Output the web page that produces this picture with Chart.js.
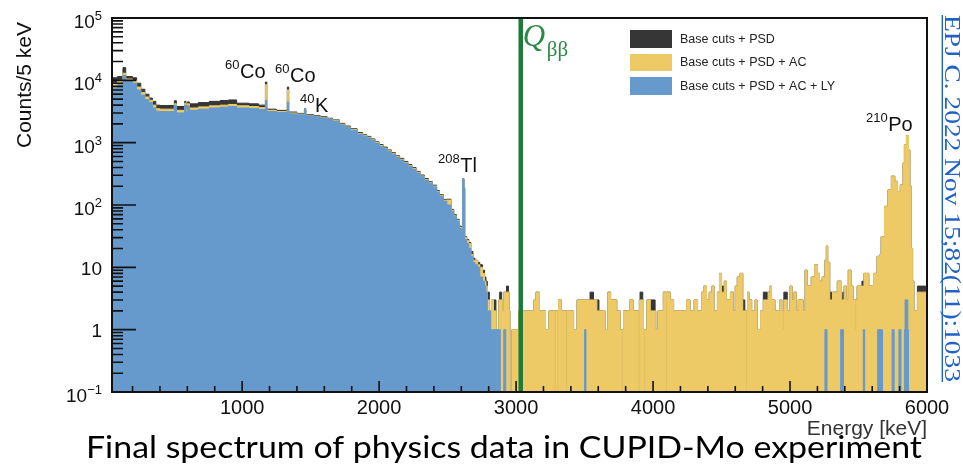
<!DOCTYPE html>
<html>
<head>
<meta charset="utf-8">
<title>CUPID-Mo spectrum</title>
<script src="https://cdn.jsdelivr.net/npm/chart.js@4.4.0/dist/chart.umd.min.js"></script>
<style>
  html, body { margin: 0; padding: 0; background: #fff; }
  canvas { display: block; }
</style>
</head>
<body>
<canvas id="spectrum" width="963" height="465"></canvas>
<script>
// ---------------- axis ranges ----------------
const E_MIN = 50, E_MAX = 6000;          // keV
const Y_MIN = 0.1, Y_MAX = 1e5;          // counts / 5 keV
const Q_BB = 3034;                       // 100Mo Q-value, keV

const xMajorTicks = [1000, 2000, 3000, 4000, 5000, 6000];
const yDecades = [-1, 0, 1, 2, 3, 4, 5];

const seriesNames = ['Base cuts + PSD', 'Base cuts + PSD + AC', 'Base cuts + PSD + AC + LY'];

// ---------------- continuum (common bin edges, keV) ----------------
const loEdges = [
  50, 90, 130, 150, 200, 230, 260, 290, 320, 345,
  370, 400, 450, 505, 520, 580, 590, 600, 615, 680,
  760, 840, 900, 960, 1050, 1120, 1170, 1180, 1250, 1330,
  1340, 1400, 1455, 1465, 1520, 1570, 1620, 1660, 1710, 1750,
  1790, 1840, 1880, 1910, 1940, 1970, 2000, 2030, 2060, 2090,
  2120, 2150, 2180, 2210, 2240, 2270, 2300, 2330, 2360, 2390,
  2420, 2440, 2470, 2495, 2525, 2545, 2565, 2585, 2600, 2610,
  2620, 2625, 2640, 2655, 2670, 2685, 2700, 2720, 2735, 2755,
  2770, 2780
];
const loBlue = [
  7500, 8500, 12000, 10000, 9000, 7000, 5800, 4900, 4400, 3600,
  3200, 3150, 3150, 4000, 3000, 4000, 3100, 3900, 3300, 3450,
  3600, 3700, 3800, 3600, 3550, 3400, 4800, 3150, 3050, 4500,
  2900, 2800, 3400, 2700, 2600, 2500, 2350, 2200, 1930, 1750,
  1580, 1370, 1270, 1190, 1080, 970, 880, 800, 720, 650,
  580, 525, 470, 420, 375, 325, 285, 250, 222, 195,
  160, 137, 115, 100, 79, 65, 55, 42, 37, 260,
  185, 28, 24, 20, 15, 12, 11, 10, 7, 6,
  5, 4
];
const loYellow = [
  9000, 10000, 13000, 10500, 9800, 7800, 6400, 5400, 4800, 4000,
  3500, 3450, 3450, 4200, 3300, 4300, 3400, 4200, 3600, 3750,
  3900, 4000, 4100, 3900, 3800, 3650, 8500, 3300, 3150, 7000,
  3000, 2870, 3450, 2760, 2660, 2560, 2400, 2250, 1980, 1790,
  1620, 1400, 1300, 1220, 1110, 1000, 900, 820, 740, 665,
  595, 540, 482, 430, 385, 335, 293, 257, 228, 201,
  165, 141, 119, 120, 82, 67, 57, 44, 39, 262,
  188, 30, 27, 24, 16, 13, 13, 11, 10, 8,
  6, 5
];
const loBlack = [
  11000, 11500, 16000, 11500, 11000, 9000, 7200, 6000, 5200, 4600,
  4000, 3950, 3950, 4700, 3800, 4600, 3900, 4500, 4200, 4400,
  4600, 4750, 4850, 4300, 4200, 4000, 9400, 3450, 3300, 7800,
  3100, 2950, 3500, 2830, 2730, 2630, 2470, 2320, 2040, 1850,
  1670, 1450, 1340, 1260, 1150, 1030, 930, 850, 765, 690,
  615, 560, 500, 445, 398, 346, 303, 266, 236, 208,
  171, 146, 123, 124, 85, 70, 59, 46, 40, 265,
  190, 31, 28, 25, 18, 14, 13, 12, 11, 9,
  7, 6
];

// ---------------- high-energy region (run edges, keV) ----------------
const hiYellowEdges = [
  2790, 2805, 2820, 2835, 2855, 2875, 2900, 2910, 2950, 2955,
  2970, 3020, 3130, 3145, 3170, 3215, 3240, 3280, 3285, 3305,
  3310, 3330, 3370, 3375, 3420, 3445, 3590, 3650, 3670, 3690,
  3735, 3760, 3770, 3775, 3785, 3830, 3855, 3895, 3900, 3930,
  3940, 3945, 3955, 3980, 4020, 4035, 4075, 4095, 4100, 4125,
  4150, 4245, 4270, 4300, 4325, 4355, 4370, 4390, 4410, 4430,
  4445, 4470, 4485, 4500, 4520, 4535, 4565, 4585, 4600, 4615,
  4635, 4655, 4675, 4680, 4690, 4700, 4720, 4745, 4760, 4785,
  4805, 4840, 4855, 4865, 4890, 4925, 4940, 4945, 4950, 4955,
  4980, 5000, 5015, 5030, 5045, 5060, 5095, 5110, 5125, 5155,
  5180, 5200, 5215, 5235, 5255, 5265, 5275, 5290, 5310, 5345,
  5375, 5395, 5410, 5425, 5445, 5460, 5480, 5485, 5490, 5540,
  5575, 5610, 5635, 5655, 5665, 5690, 5715, 5740, 5765, 5785,
  5805, 5825, 5835, 5850, 5865, 5875, 5885, 5895, 5905, 5930
];
const hiYellowCounts = [
  3, 2, 3, 2, 1, 3, 2, 4, 2, 0,
  1, 2, 3, 4, 2, 1, 2, 0, 2, 0,
  3, 2, 0, 2, 1, 3, 2, 1, 4, 3,
  2, 1, 0, 1, 2, 3, 2, 0, 3, 1,
  0, 1, 3, 2, 1, 2, 4, 0, 4, 3,
  2, 3, 2, 3, 2, 4, 5, 3, 4, 5,
  2, 4, 8, 4, 6, 3, 4, 2, 5, 7,
  8, 2, 0, 2, 4, 3, 2, 3, 1, 2,
  3, 4, 5, 3, 2, 3, 2, 1, 2, 3,
  2, 5, 3, 4, 2, 3, 2, 9, 5, 7,
  11, 8, 6, 7, 13, 22, 12, 3, 4, 6,
  3, 5, 3, 9, 5, 3, 1, 3, 5, 8,
  5, 8, 15, 16, 31, 95, 175, 290, 240, 165,
  210, 470, 920, 1300, 760, 200, 20, 6, 2, 4
];

// bins where the PSD-only spectrum sits above the AC one
const hiBlackCapStart = [2795, 2838, 2880, 2930, 3540, 3590, 3905, 3980, 4500, 4655, 4805, 4955, 5290, 5385, 5525, 5930];
const hiBlackCapEnd   = [2805, 2853, 2895, 2945, 3565, 3605, 3925, 4015, 4515, 4670, 4835, 4980, 5305, 5395, 5535, 5990];
const hiBlackCapCount = [4, 3, 4, 5, 4, 3, 4, 3, 5, 3, 4, 4, 4, 4, 6, 5];

const hiBlueEdges = [
  2790, 2815, 2860, 2865, 2875, 2880, 2885, 2910, 2925, 3500,
  3510, 5255, 5270, 5370, 5390, 5535, 5545, 5640, 5675, 5745,
  5760, 5795, 5810, 5835, 5840, 5860, 5865
];
const hiBlueCounts = [
  2, 1, 0, 1, 0, 1, 0, 1, 0, 1,
  0, 1, 0, 1, 0, 1, 0, 1, 0, 1,
  0, 1, 0, 1, 3, 1, 0
];

// ---------------- helpers ----------------
function countAt(e, edges, counts) {
  let c = 0;
  for (let i = 0; i < edges.length && edges[i] <= e; i++) c = counts[i];
  return c;
}

// PSD-only high-energy part = AC spectrum with the extra bins on top
function blackHighRuns() {
  const edges = [...new Set([...hiYellowEdges, ...hiBlackCapStart, ...hiBlackCapEnd])].sort((a, b) => a - b);
  const counts = edges.map(e => {
    let c = countAt(e, hiYellowEdges, hiYellowCounts);
    hiBlackCapStart.forEach((s, k) => {
      if (e >= s && e < hiBlackCapEnd[k]) c = Math.max(c, hiBlackCapCount[k]);
    });
    return c;
  });
  return { edges, counts };
}

// left bin edges -> points for a stepped line; empty bins sit on the axis floor
function histPoints(edges, counts) {
  const pts = edges.map((e, i) => ({ x: e, y: counts[i] > 0 ? counts[i] : Y_MIN }));
  pts.push({ x: E_MAX, y: pts[pts.length - 1].y });
  return pts;
}

const blackHi = blackHighRuns();
const bluePts = histPoints(loEdges.concat(hiBlueEdges), loBlue.concat(hiBlueCounts));
const yellowPts = histPoints(loEdges.concat(hiYellowEdges), loYellow.concat(hiYellowCounts));
const blackPts = histPoints(loEdges.concat(blackHi.edges), loBlack.concat(blackHi.counts));

const COL_BLACK = '#363636';
const COL_YELLOW = '#edca66';
const COL_BLUE = '#6699cc';
const COL_GREEN = '#1c7b36';

function histDataset(label, data, color, order) {
  return {
    label, data, order,
    stepped: true,
    fill: 'start',
    backgroundColor: color,
    borderColor: color,
    borderWidth: 1,
    pointRadius: 0,
    tension: 0
  };
}

// ---------------- drawing of frame, ticks, labels ----------------
function drawPow(ctx, exp, xRight, yTick) {
  ctx.textAlign = 'left';
  if (exp === 0 || exp === 1) {
    const t = exp === 0 ? '1' : '10';
    ctx.font = '19px "Liberation Sans"';
    ctx.fillText(t, xRight - ctx.measureText(t).width, yTick + 7.5);
    return;
  }
  const e = exp < 0 ? '\u2212' + (-exp) : String(exp);
  ctx.font = '13px "Liberation Sans"';
  const we = ctx.measureText(e).width;
  ctx.font = '19px "Liberation Sans"';
  const wb = ctx.measureText('10').width;
  ctx.fillText('10', xRight - we - wb, yTick + 10);
  ctx.font = '13px "Liberation Sans"';
  ctx.fillText(e, xRight - we, yTick + 2);
}

function drawIsotope(ctx, mass, name, x, baseline) {
  ctx.textAlign = 'left';
  ctx.font = '13px "Liberation Sans"';
  ctx.fillText(mass, x, baseline - 9);
  const w = ctx.measureText(mass).width;
  ctx.font = '20px "Liberation Sans"';
  ctx.fillText(name, x + w + 0.5, baseline);
}

const decorations = {
  id: 'decorations',
  afterDraw(chart) {
    const { ctx, chartArea: a, scales: { x, y } } = chart;
    ctx.save();

    // ticks, drawn inward
    ctx.strokeStyle = '#111';
    ctx.lineWidth = 1.6;
    ctx.beginPath();
    yDecades.forEach(d => {
      for (let m = 1; m <= 9; m++) {
        const v = m * Math.pow(10, d);
        if (v > Y_MAX) break;
        const py = y.getPixelForValue(v);
        ctx.moveTo(a.left, py);
        ctx.lineTo(a.left + (m === 1 ? 24 : 11), py);
      }
    });
    for (let e = 200; e <= E_MAX; e += 200) {
      const px = x.getPixelForValue(e);
      ctx.moveTo(px, a.bottom);
      ctx.lineTo(px, a.bottom - (e % 1000 === 0 ? 11 : 6));
    }
    ctx.stroke();

    // frame
    ctx.lineWidth = 2;
    ctx.strokeStyle = '#111';
    ctx.strokeRect(a.left, a.top, a.right - a.left, a.bottom - a.top);

    // tick labels
    ctx.fillStyle = '#111';
    ctx.textBaseline = 'alphabetic';
    yDecades.forEach(d => drawPow(ctx, d, 102, y.getPixelForValue(Math.pow(10, d))));
    ctx.font = '20px "Liberation Sans"';
    ctx.textAlign = 'center';
    xMajorTicks.forEach(e => ctx.fillText(String(e), x.getPixelForValue(e), a.bottom + 22));

    // axis titles
    ctx.save();
    ctx.translate(31, 85);
    ctx.rotate(-Math.PI / 2);
    ctx.font = '21px "Liberation Sans"';
    ctx.textAlign = 'center';
    ctx.fillText('Counts/5 keV', 0, 0);
    ctx.restore();

    ctx.fillStyle = '#333';
    ctx.font = '21px "Liberation Sans"';
    ctx.textAlign = 'right';
    ctx.fillText('Energy [keV]', a.right, 435);

    // peak labels
    ctx.fillStyle = '#111';
    drawIsotope(ctx, '60', 'Co', 225, 78);
    drawIsotope(ctx, '60', 'Co', 275, 82);
    drawIsotope(ctx, '40', 'K', 300, 112);
    drawIsotope(ctx, '208', 'Tl', 438, 172);
    drawIsotope(ctx, '210', 'Po', 866, 131);

    // Q-value label
    const qx = x.getPixelForValue(Q_BB);
    ctx.fillStyle = '#2a8a45';
    ctx.textAlign = 'left';
    ctx.font = 'italic 31px "Liberation Serif"';
    ctx.fillText('Q', qx + 2, 46);
    ctx.font = '21px "Liberation Serif"';
    ctx.fillText('\u03b2\u03b2', qx + 26, 56);

    // legend
    const boxes = [[30, 48], [54, 71], [77, 95]];
    const cols = [COL_BLACK, COL_YELLOW, COL_BLUE];
    ctx.font = '12.5px "Liberation Sans"';
    boxes.forEach(([t, b], i) => {
      ctx.fillStyle = cols[i];
      ctx.fillRect(630, t, 42, b - t);
      ctx.fillStyle = '#222';
      ctx.textBaseline = 'middle';
      ctx.fillText(seriesNames[i], 680, (t + b) / 2 + 0.5);
    });
    ctx.textBaseline = 'alphabetic';

    // journal reference, vertical
    const ref = 'EPJ C. 2022 Nov 15;82(11):1033';
    ctx.save();
    ctx.font = '24px "Liberation Serif"';
    const rl = ctx.measureText(ref).width;
    ctx.translate(945, 15);
    ctx.rotate(Math.PI / 2);
    ctx.scale(367 / rl, 1);
    ctx.fillStyle = '#1f63c6';
    ctx.fillText(ref, 0, 0);
    ctx.fillRect(0, 2, rl, 1.4);
    ctx.restore();

    // caption
    const cap = 'Final spectrum of physics data in CUPID-Mo experiment';
    ctx.save();
    ctx.font = '30px Lato';
    const cw = ctx.measureText(cap).width;
    ctx.translate(504, 458);
    ctx.scale(836 / cw, 1);
    ctx.fillStyle = '#000';
    ctx.textAlign = 'center';
    ctx.fillText(cap, 0, 0);
    ctx.restore();

    ctx.restore();
  }
};

new Chart(document.getElementById('spectrum'), {
  type: 'line',
  data: {
    datasets: [
      {
        label: 'Qbb',
        data: [{ x: Q_BB, y: Y_MIN }, { x: Q_BB, y: Y_MAX }],
        borderColor: COL_GREEN,
        borderWidth: 4.5,
        pointRadius: 0,
        fill: false,
        order: 0
      },
      histDataset(seriesNames[2], bluePts, COL_BLUE, 1),
      histDataset(seriesNames[1], yellowPts, COL_YELLOW, 2),
      histDataset(seriesNames[0], blackPts, COL_BLACK, 3)
    ]
  },
  options: {
    responsive: false,
    devicePixelRatio: 1,
    animation: false,
    layout: { padding: { left: 112, right: 36, top: 18, bottom: 73 } },
    scales: {
      x: { type: 'linear', min: E_MIN, max: E_MAX, display: false },
      y: { type: 'logarithmic', min: Y_MIN, max: Y_MAX, display: false }
    },
    plugins: {
      legend: { display: false },
      tooltip: { enabled: false }
    }
  },
  plugins: [decorations]
});
</script>
</body>
</html>
